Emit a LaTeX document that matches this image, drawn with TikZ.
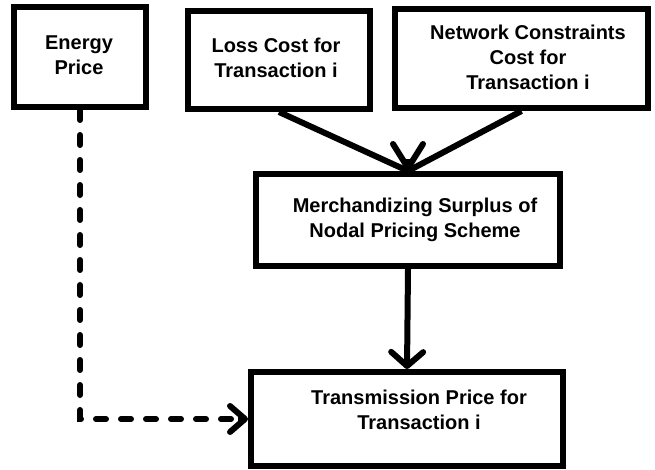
\documentclass[tikz,border=0pt]{standalone}
\usepackage{fontspec}
\setmainfont{Liberation Sans}
\usetikzlibrary{arrows.meta}
\begin{document}
\begin{tikzpicture}[x=1pt,y=1pt,
  box/.style={draw=black, line width=6pt, fill=white, inner sep=0pt, align=center,
    font=\fontsize{20}{25}\selectfont\bfseries},
  boxtext/.style={inner sep=0pt, align=center, font=\fontsize{20}{25}\selectfont\bfseries},
  flow/.style={line width=6pt, draw=black},
  tipA/.style={-{Straight Barb[length=14pt,width=32pt,round]}},
  tipB/.style={-{Straight Barb[length=24pt,width=30pt,round]}},
  tipC/.style={-{Straight Barb[length=15pt,width=26pt,round]}},
  link/.style={line width=6pt, draw=black, dash pattern=on 10pt off 15pt, line cap=round}]
\useasboundingbox (0,0) rectangle (655,470);
\fill[white] (0,0) rectangle (655,470);

% input boxes
\node[box, minimum width=132pt, minimum height=100pt] (energy) at (80,413) {};
\node[boxtext] (energytext) at (79,415) {Energy\\Price};

\node[box, minimum width=182pt, minimum height=98pt] (loss) at (279,410) {};
\node[boxtext] (losstext) at (276,412) {Loss Cost for\\Transaction i};

\node[box, minimum width=253pt, minimum height=99pt] (net) at (521.5,411.5) {};
\node[boxtext] (nettext) at (528,413) {Network Constraints\\Cost for\\Transaction i};

% middle and output boxes
\node[box, minimum width=304pt, minimum height=92pt] (merch) at (408,250) {};
\node[boxtext] (merchtext) at (415,250) {Merchandizing Surplus of\\Nodal Pricing Scheme};

\node[box, minimum width=312pt, minimum height=94pt] (trans) at (407,51) {};
\node[boxtext] (transtext) at (419,60) {Transmission Price for\\Transaction i};

% connectors
\draw[flow] (loss.south) -- (merch.north);
\draw[flow] (net.south) -- (merch.north);
\draw[flow, tipB] ([yshift=12pt]merch.north) -- (merch.north);
\draw[flow, tipA] (merch.south) -- (trans.north);
\draw[link] (energy.south) |- ([xshift=-8pt]trans.west);
\draw[flow, tipC] ([xshift=-10pt]trans.west) -- (trans.west);
\end{tikzpicture}
\end{document}
